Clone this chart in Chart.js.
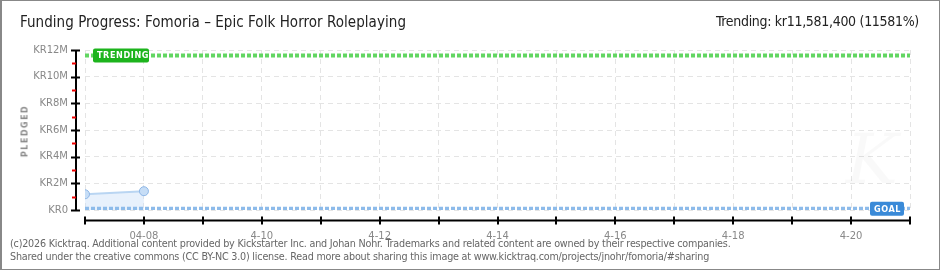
<!DOCTYPE html>
<html>
<head>
<meta charset="utf-8">
<script src="https://cdn.jsdelivr.net/npm/chart.js@4.4.1/dist/chart.umd.min.js"></script>
<style>
  html, body { margin: 0; padding: 0; background: #fff; }
  #wrap { position: relative; width: 940px; height: 270px; box-sizing: border-box;
          border: 1px solid #888; border-left-width: 2px; overflow: hidden; }
  #c { position: absolute; left: -2px; top: -1px; }
  .title { position: absolute; left: 18px; top: 12px; font: 15px "DejaVu Sans Condensed", sans-serif; color: #222; letter-spacing: 0.05px; }
  .trend { position: absolute; right: 20px; top: 12px; font: 14px "DejaVu Sans Condensed", sans-serif; color: #222; letter-spacing: -0.3px; }
  .ytitle { position: absolute; left: 23px; top: 130px; transform: translate(-50%, -50%) rotate(-90deg);
            font: bold 8px "DejaVu Sans", sans-serif; color: #888; letter-spacing: 1.5px; }
  .foot { position: absolute; left: 8px; top: 236px; font: 10.7px "DejaVu Sans Condensed", sans-serif; color: #666; line-height: 13px; letter-spacing: -0.2px; }
</style>
</head>
<body>
<div id="wrap">
  <canvas id="c" width="940" height="270"></canvas>
  <div class="title">Funding Progress: Fomoria – Epic Folk Horror Roleplaying</div>
  <div class="trend">Trending: kr11,581,400 (11581%)</div>
  <div class="ytitle">PLEDGED</div>
  <div class="foot">(c)2026 Kicktraq. Additional content provided by Kickstarter Inc. and Johan Nohr. Trademarks and related content are owned by their respective companies.<br>Shared under the creative commons (CC BY-NC 3.0) license. Read more about sharing this image at www.kicktraq.com/projects/jnohr/fomoria/#sharing</div>
</div>
<script>
// day index 0 = 04-07, 14 = 04-21
const pledgedDays = [0, 1];
const pledgedValues = [1180000, 1410000];
const trendingValue = 11581400;
const goalValue = 100000;
const xTickDays = [1, 3, 5, 7, 9, 11, 13];
const xTickLabels = ['04-08', '4-10', '4-12', '4-14', '4-16', '4-18', '4-20'];
const yTickValues = [0, 2000000, 4000000, 6000000, 8000000, 10000000, 12000000];
const yTickLabels = ['KR0', 'KR2M', 'KR4M', 'KR6M', 'KR8M', 'KR10M', 'KR12M'];
const dayMin = 0, dayMax = 14;

const labelFont = 'bold 9px "DejaVu Sans Condensed", sans-serif';

const decor = {
  id: 'decor',
  afterDatasetsDraw(chart) {
    const { ctx, scales: { x, y } } = chart;
    ctx.save();
    // y axis line + ticks
    const ax = 76;
    ctx.strokeStyle = '#000'; ctx.lineWidth = 2;
    ctx.beginPath(); ctx.moveTo(ax, y.getPixelForValue(12000000)); ctx.lineTo(ax, y.getPixelForValue(0) + 1); ctx.stroke();
    for (let v = 0; v <= 12000000; v += 1000000) {
      const py = Math.round(y.getPixelForValue(v)) + 0.5;
      const major = v % 2000000 === 0;
      ctx.strokeStyle = major ? '#000' : '#e00';
      ctx.lineWidth = 2;
      ctx.beginPath(); ctx.moveTo(major ? 71 : 72, py); ctx.lineTo(major ? 80 : 76, py); ctx.stroke();
    }
    // x axis line + ticks
    const ay = 220.5;
    ctx.strokeStyle = '#000'; ctx.lineWidth = 2;
    ctx.beginPath(); ctx.moveTo(x.getPixelForValue(dayMin), ay); ctx.lineTo(x.getPixelForValue(dayMax), ay); ctx.stroke();
    for (let d = dayMin; d <= dayMax; d++) {
      const px = Math.round(x.getPixelForValue(d));
      ctx.beginPath(); ctx.moveTo(px, ay - 4); ctx.lineTo(px, ay + 4); ctx.stroke();
    }
    // badges
    function badge(text, bg, left, right, cy, w) {
      const h = 14;
      const bx = left != null ? left : right - w;
      ctx.fillStyle = bg;
      ctx.beginPath();
      ctx.roundRect(bx, cy - h / 2, w, h, 2);
      ctx.fill();
      ctx.fillStyle = '#fff';
      ctx.font = labelFont;
      ctx.letterSpacing = '0.6px';
      ctx.textBaseline = 'middle';
      ctx.textAlign = 'left';
      ctx.fillText(text, bx + 4, cy + 0.5);
      ctx.letterSpacing = '0px';
    }
    badge('TRENDING', '#1db41d', x.getPixelForValue(dayMin) + 8, null, y.getPixelForValue(trendingValue), 56);
    badge('GOAL', '#3a8ad8', null, x.getPixelForValue(dayMax) - 6, y.getPixelForValue(goalValue), 34);
    // watermark
    ctx.font = 'italic 70px "DejaVu Serif", serif';
    ctx.fillStyle = 'rgba(0,0,0,0.025)';
    ctx.textAlign = 'center';
    ctx.fillText('K', 872, 165);
    ctx.restore();
  }
};

new Chart(document.getElementById('c'), {
  type: 'line',
  data: {
    datasets: [
      {
        label: 'Pledged',
        data: pledgedDays.map((d, i) => ({ x: d, y: pledgedValues[i] })),
        borderColor: '#b9d5f2', borderWidth: 2,
        backgroundColor: 'rgba(205,225,248,0.45)', fill: 'origin',
        pointRadius: 4.5, pointBackgroundColor: '#c6ddf6', pointBorderColor: '#8db6e6', pointBorderWidth: 1,
        tension: 0, order: 3
      },
      {
        label: 'Trending',
        data: [{ x: dayMin, y: trendingValue }, { x: dayMax, y: trendingValue }],
        borderColor: '#62d662', borderWidth: 4, borderDash: [4, 2],
        pointRadius: 0, fill: false, order: 2
      },
      {
        label: 'Goal',
        data: [{ x: dayMin, y: goalValue }, { x: dayMax, y: goalValue }],
        borderColor: '#8dbbea', borderWidth: 4, borderDash: [4, 2],
        pointRadius: 0, fill: false, order: 1
      }
    ]
  },
  options: {
    responsive: false,
    animation: false,
    layout: { padding: { top: 50, right: 30, bottom: 25, left: 0 } },
    plugins: { legend: { display: false }, tooltip: { enabled: false } },
    scales: {
      x: {
        type: 'linear', min: dayMin, max: dayMax,
        afterFit: s => { s.height = 35; },
        afterBuildTicks: s => { s.ticks = Array.from({ length: dayMax - dayMin + 1 }, (_, i) => ({ value: dayMin + i })); },
        ticks: {
          autoSkip: false, maxRotation: 0, padding: 20,
          color: '#888', font: { family: '"DejaVu Sans", sans-serif', size: 10 },
          callback: v => { const i = xTickDays.indexOf(v); return i >= 0 ? xTickLabels[i] : ''; }
        },
        grid: { color: '#e4e4e4', drawTicks: false },
        border: { display: false, dash: [5, 4] }
      },
      y: {
        min: 0, max: 12000000,
        afterFit: s => { s.width = 85; },
        afterBuildTicks: s => { s.ticks = yTickValues.map(v => ({ value: v })); },
        ticks: {
          padding: 17, color: '#888', font: { family: '"DejaVu Sans", sans-serif', size: 10 },
          callback: v => { const i = yTickValues.indexOf(v); return i >= 0 ? yTickLabels[i] : ''; }
        },
        grid: { color: '#e4e4e4', drawTicks: false },
        border: { display: false, dash: [5, 4] }
      }
    }
  },
  plugins: [decor]
});
</script>
</body>
</html>
